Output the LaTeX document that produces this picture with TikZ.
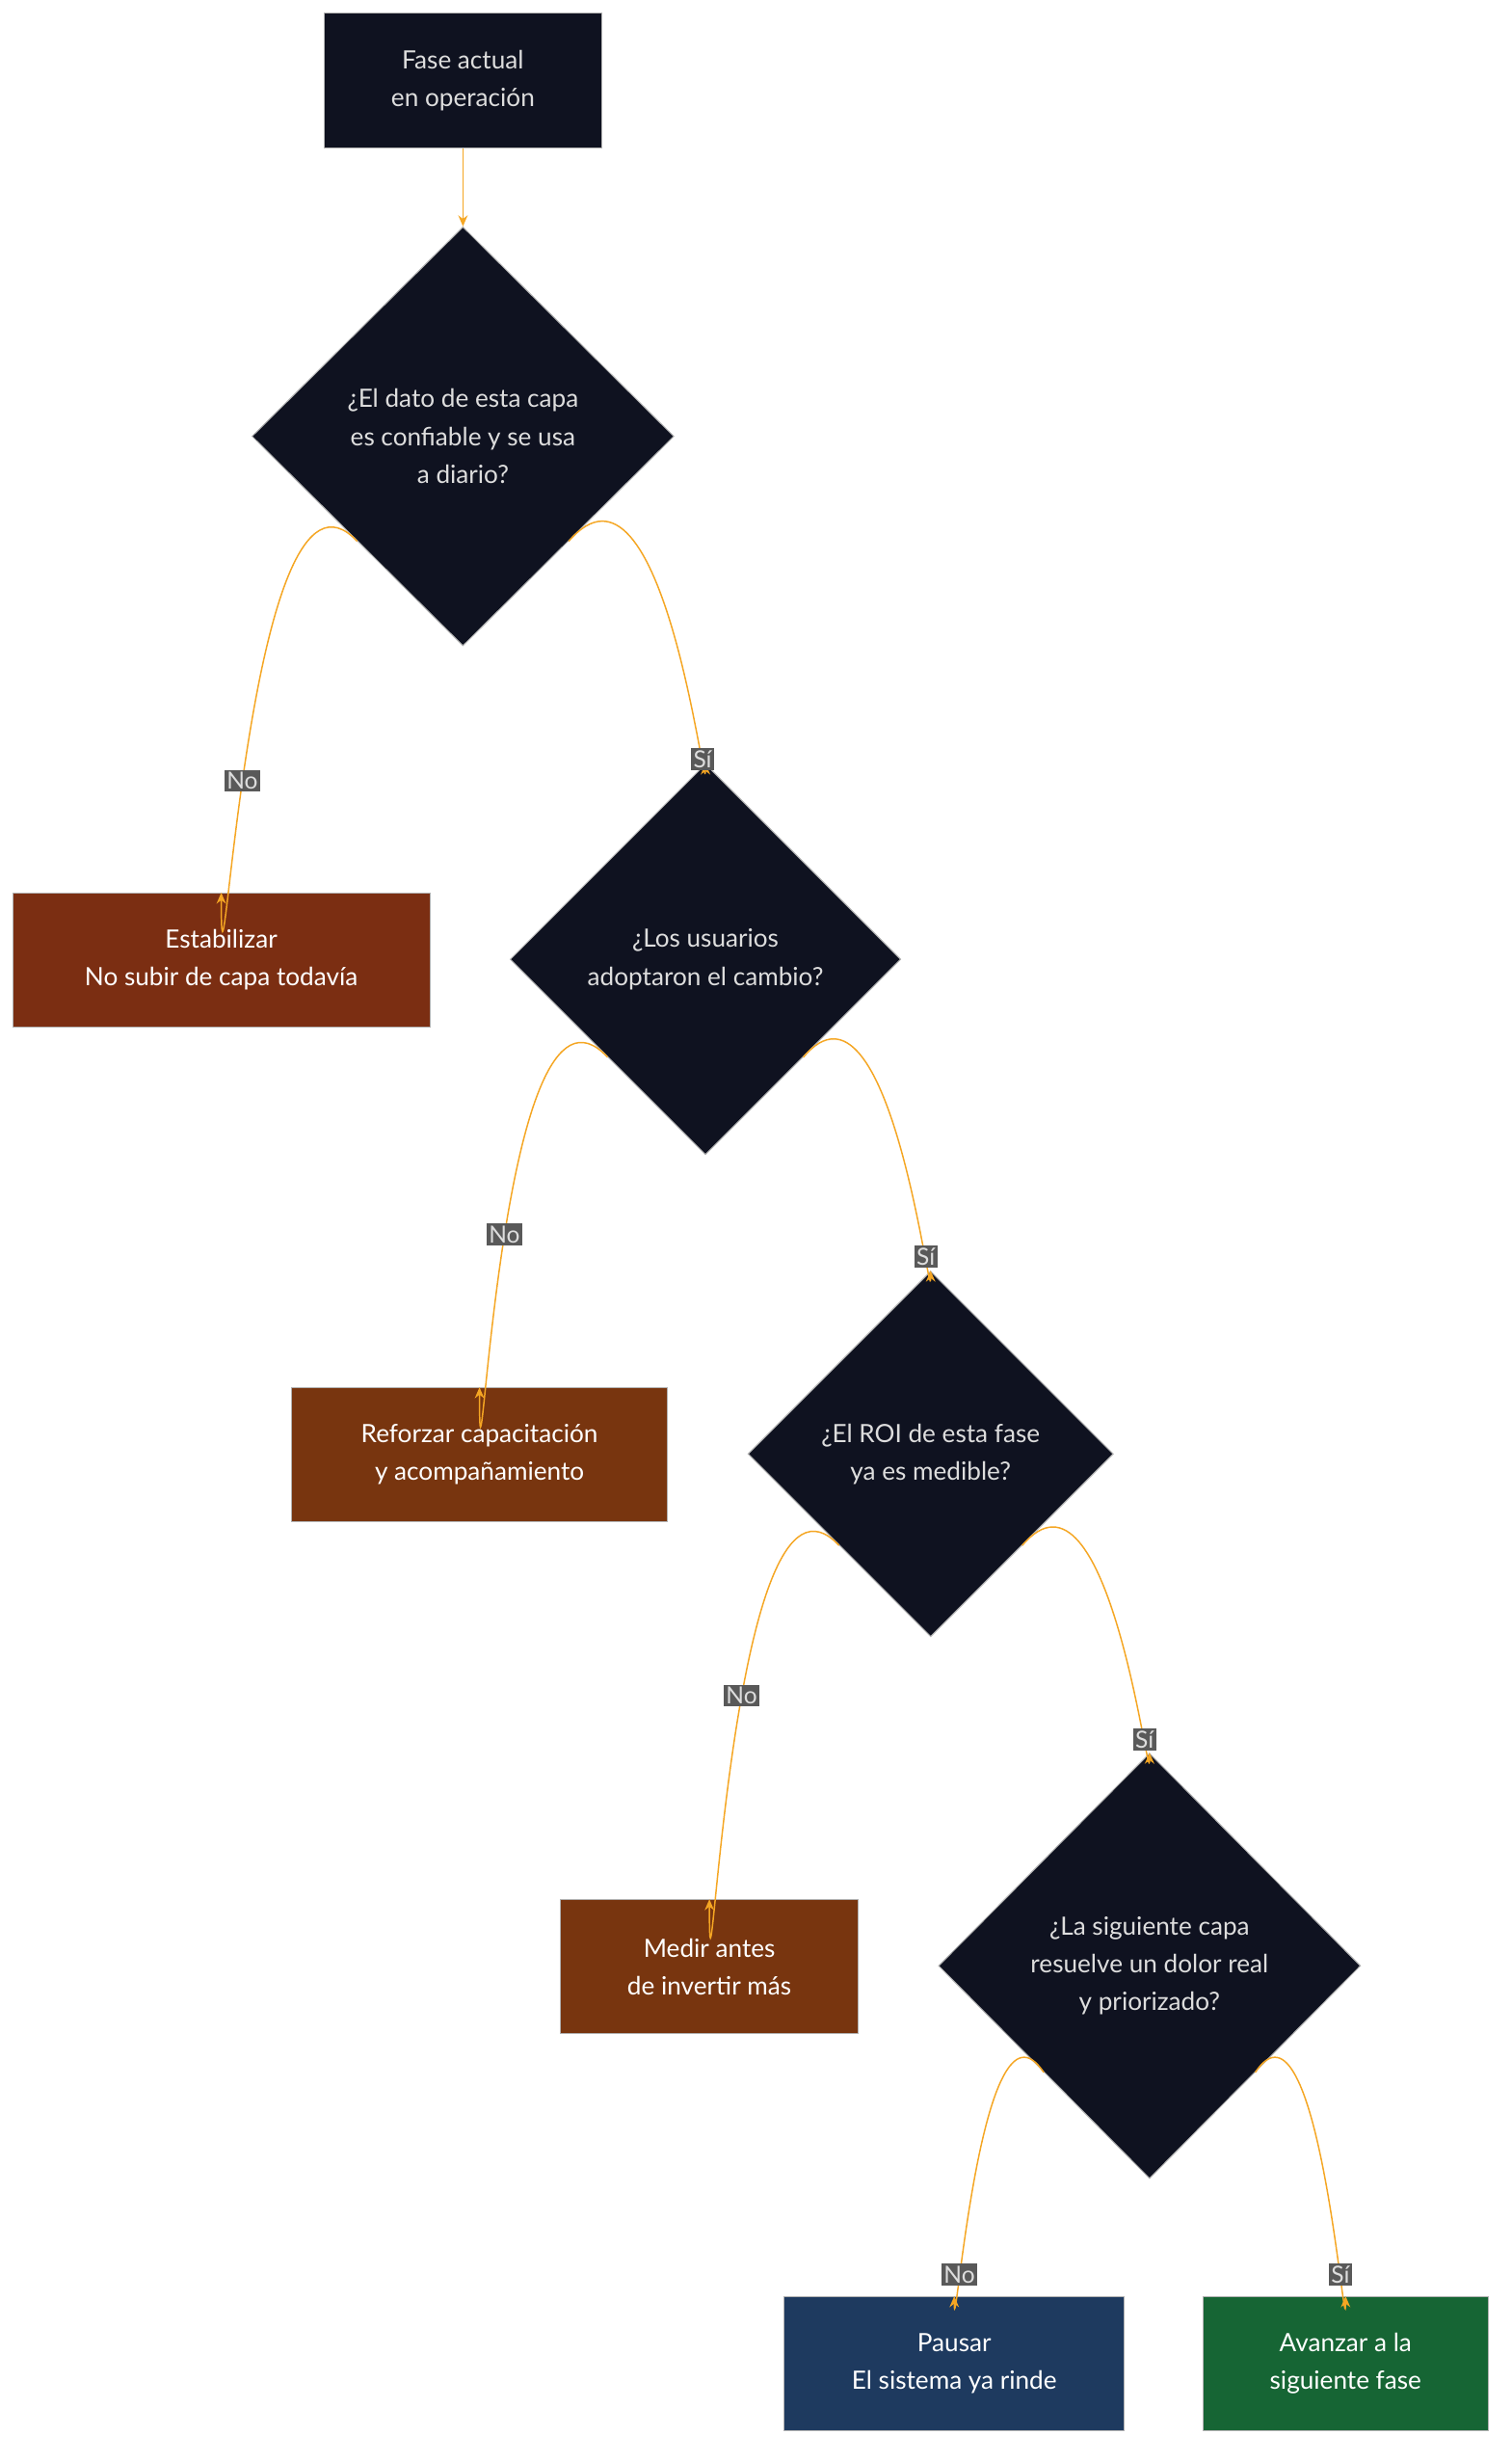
\documentclass[tikz,border=0pt]{standalone}
\usepackage{fontspec}
\setmainfont{Lato}
\usetikzlibrary{shapes.geometric,arrows.meta}
\definecolor{dk}{HTML}{0F1220}
\definecolor{br1}{HTML}{7B2E12}
\definecolor{br2}{HTML}{78350F}
\definecolor{bl}{HTML}{1E3A5F}
\definecolor{gr}{HTML}{166534}
\definecolor{ed}{HTML}{F5A623}
\definecolor{lt}{HTML}{DDDDDD}
\begin{document}
\begin{tikzpicture}[x=1pt,y=-1pt,
  every node/.style={font=\fontsize{16}{24}\selectfont,align=center},
  box/.style={rectangle,draw=gray!60,line width=0.6pt,inner sep=0},
  dec/.style={diamond,fill=dk,draw=gray!60,line width=0.6pt,inner sep=0,text=lt},
  e/.style={draw=ed,line width=0.9pt,-{Stealth[length=7pt,width=6pt]}},
  lab/.style={fill=black!65,text=lt,inner sep=1.5pt,font=\fontsize{15}{18}\selectfont}]
\useasboundingbox (0,0) rectangle (960,1563);
\fill[white] (0,0) rectangle (960,1563);
\node[box,fill=dk,text=lt,minimum width=176,minimum height=86] (s) at (294,51) {Fase actual\\en operación};
\node[dec,minimum width=268,minimum height=266] (d1) at (294,277) {¿El dato de esta capa\\es confiable y se usa\\a diario?};
\node[box,fill=br1,text=white,minimum width=265,minimum height=85] (n1) at (140.5,609.5) {Estabilizar\\No subir de capa todavía};
\node[dec,minimum width=248,minimum height=248] (d2) at (448,609) {¿Los usuarios\\adoptaron el cambio?};
\node[box,fill=br2,text=white,minimum width=239,minimum height=85] (n2) at (304.5,923.5) {Reforzar capacitación\\y acompañamiento};
\node[dec,minimum width=232,minimum height=232] (d3) at (591,923) {¿El ROI de esta fase\\ya es medible?};
\node[box,fill=br2,text=white,minimum width=189,minimum height=85] (n3) at (450.5,1248.5) {Medir antes\\de invertir más};
\node[dec,minimum width=268,minimum height=270] (d4) at (730,1248) {¿La siguiente capa\\resuelve un dolor real\\y priorizado?};
\node[box,fill=bl,text=white,minimum width=216,minimum height=85] (n4) at (606,1500.5) {Pausar\\El sistema ya rinde};
\node[box,fill=gr,text=white,minimum width=181,minimum height=85] (n5) at (854.5,1500.5) {Avanzar a la\\siguiente fase};
\draw[e] (s) -- (d1);
\draw[e] (d1.south west) .. controls +(-70,-75) and +(0,120) .. node[lab,pos=0.55] {No} (n1.north);
\draw[e] (d1.south east) .. controls +(60,-70) and +(0,30) .. node[lab,pos=0.85] {Sí} (d2.north);
\draw[e] (d2.south west) .. controls +(-70,-75) and +(0,120) .. node[lab,pos=0.48] {No} (n2.north);
\draw[e] (d2.south east) .. controls +(55,-65) and +(0,30) .. node[lab,pos=0.8] {Sí} (d3.north);
\draw[e] (d3.south west) .. controls +(-70,-75) and +(0,120) .. node[lab,pos=0.43] {No} (n3.north);
\draw[e] (d3.south east) .. controls +(55,-65) and +(0,30) .. node[lab,pos=0.8] {Sí} (d4.north);
\draw[e] (d4.south west) .. controls +(-40,-60) and +(0,40) .. node[lab,pos=0.75] {No} (n4.north);
\draw[e] (d4.south east) .. controls +(40,-60) and +(0,40) .. node[lab,pos=0.75] {Sí} (n5.north);
\end{tikzpicture}
\end{document}
